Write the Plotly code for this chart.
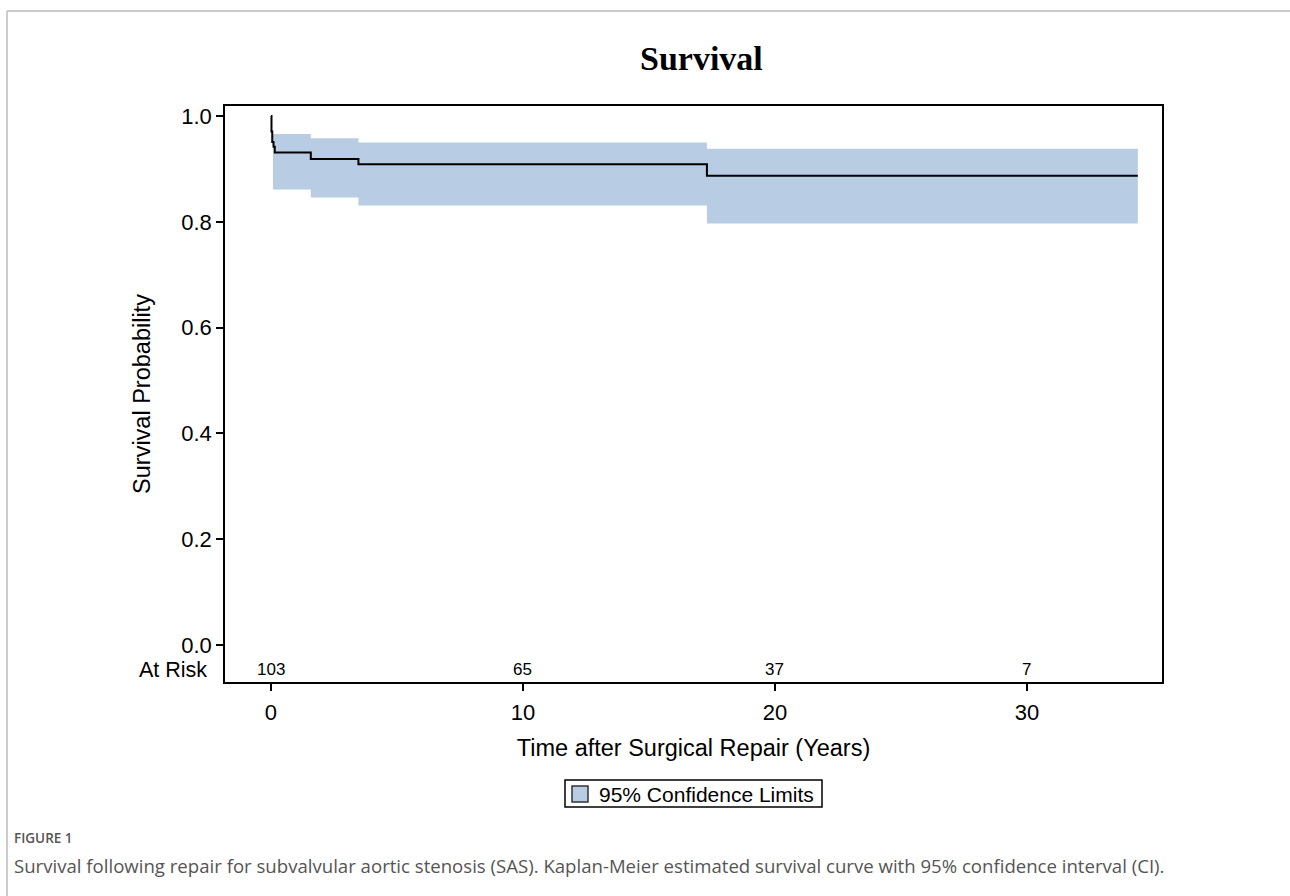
import plotly.graph_objects as go

# Kaplan-Meier estimate (years after repair, survival probability)
km_time = [0.0, 0.02, 0.05, 0.10, 0.15, 1.58, 3.47, 17.3, 34.4]
km_surv = [1.0, 0.971, 0.951, 0.942, 0.931, 0.919, 0.909, 0.887, 0.887]

# 95% confidence limits
ci_time = [0.08, 1.58, 3.47, 17.3, 34.4]
ci_upper = [0.966, 0.958, 0.950, 0.938, 0.938]
ci_lower = [0.861, 0.846, 0.831, 0.797, 0.797]

# Number at risk
risk_time = [0, 10, 20, 30]
risk_count = [103, 65, 37, 7]

x_ticks = [0, 10, 20, 30]
y_ticks = [0.0, 0.2, 0.4, 0.6, 0.8, 1.0]

W, H = 1290, 896
M_L, M_R, M_T, M_B = 225, 128, 106, 214
PW, PH = W - M_L - M_R, H - M_T - M_B


def px(xp):
    return (xp - M_L) / PW


def py(yp):
    return (H - M_B - yp) / PH


band_color = "#b8cce4"
sans = "Liberation Sans, Arial, sans-serif"

fig = go.Figure()

fig.add_trace(go.Scatter(
    x=ci_time, y=ci_lower, mode="lines", line=dict(width=0, shape="hv"),
    showlegend=False, hoverinfo="skip"))
fig.add_trace(go.Scatter(
    x=ci_time, y=ci_upper, mode="lines", line=dict(width=0, shape="hv"),
    fill="tonexty", fillcolor=band_color, showlegend=False, hoverinfo="skip",
    name="95% Confidence Limits"))

fig.add_trace(go.Scatter(
    x=km_time, y=km_surv, mode="lines",
    line=dict(color="black", width=2, shape="hv"), showlegend=False))

for t, n in zip(risk_time, risk_count):
    fig.add_annotation(x=t, y=-0.047, xref="x", yref="y", text=str(n),
                       showarrow=False, yanchor="middle",
                       font=dict(size=17, color="black", family=sans))

fig.add_annotation(x=px(209), y=-0.047, xref="paper", yref="y", text="At Risk",
                   xanchor="right", yanchor="middle", showarrow=False,
                   font=dict(size=21.5, color="black", family=sans))

fig.add_annotation(x=px(701), y=py(58), xref="paper", yref="paper", text="<b>Survival</b>",
                   showarrow=False, yanchor="middle",
                   font=dict(size=34, color="black",
                             family="Liberation Serif, Times New Roman, serif"))

# legend box for the confidence band
fig.add_shape(type="rect", xref="paper", yref="paper",
              x0=px(565), x1=px(822), y0=py(780), y1=py(807),
              line=dict(color="black", width=1.5), fillcolor="white")
fig.add_shape(type="rect", xref="paper", yref="paper",
              x0=px(572), x1=px(588), y0=py(786), y1=py(802),
              line=dict(color="#333333", width=1.5), fillcolor=band_color)
fig.add_annotation(x=px(597), y=py(794), xref="paper", yref="paper",
                   text="95% Confidence Limits", xanchor="left", yanchor="middle",
                   showarrow=False, font=dict(size=21, color="black", family=sans))

fig.add_annotation(x=px(12), y=py(838), xref="paper", yref="paper", text="FIGURE 1",
                   xanchor="left", yanchor="middle", showarrow=False,
                   font=dict(size=13.5, color="#555555", family="Open Sans, sans-serif",
                             weight=600))
fig.add_annotation(x=px(12), y=py(865), xref="paper", yref="paper",
                   text="Survival following repair for subvalvular aortic stenosis (SAS). "
                        "Kaplan-Meier estimated survival curve with 95% confidence interval (CI).",
                   xanchor="left", yanchor="middle", showarrow=False,
                   font=dict(size=18.6, color="#555555", family="Open Sans, sans-serif"))

# page frame
fig.add_shape(type="line", xref="paper", yref="paper", x0=px(7), x1=px(W), y0=py(11), y1=py(11),
              line=dict(color="#bbbbbb", width=1.5))
fig.add_shape(type="line", xref="paper", yref="paper", x0=px(7), x1=px(7), y0=py(11), y1=py(H),
              line=dict(color="#bbbbbb", width=1.5))

fig.update_xaxes(
    range=[-1.825, 35.36], tickvals=x_ticks, ticks="outside", ticklen=7, tickwidth=1.5,
    tickcolor="black", showline=True, linecolor="black", linewidth=1.5, mirror=True,
    showgrid=False, zeroline=False, ticklabelstandoff=3,
    tickfont=dict(size=22, color="black", family=sans),
    title=dict(text="Time after Surgical Repair (Years)", standoff=15,
               font=dict(size=23.5, color="black", family=sans)))
fig.update_yaxes(
    range=[-0.07, 1.019], tickvals=y_ticks, tickformat=".1f", ticks="outside", ticklen=7,
    tickwidth=1.5, tickcolor="black", showline=True, linecolor="black", linewidth=1.5,
    mirror=True, showgrid=False, zeroline=False,
    tickfont=dict(size=22, color="black", family=sans),
    title=dict(text="Survival Probability", standoff=24,
               font=dict(size=23.5, color="black", family=sans)))

fig.update_layout(
    width=W, height=H, margin=dict(l=M_L, r=M_R, t=M_T, b=M_B, autoexpand=False),
    paper_bgcolor="white", plot_bgcolor="white", showlegend=False,
)

fig.write_html("out.html")
